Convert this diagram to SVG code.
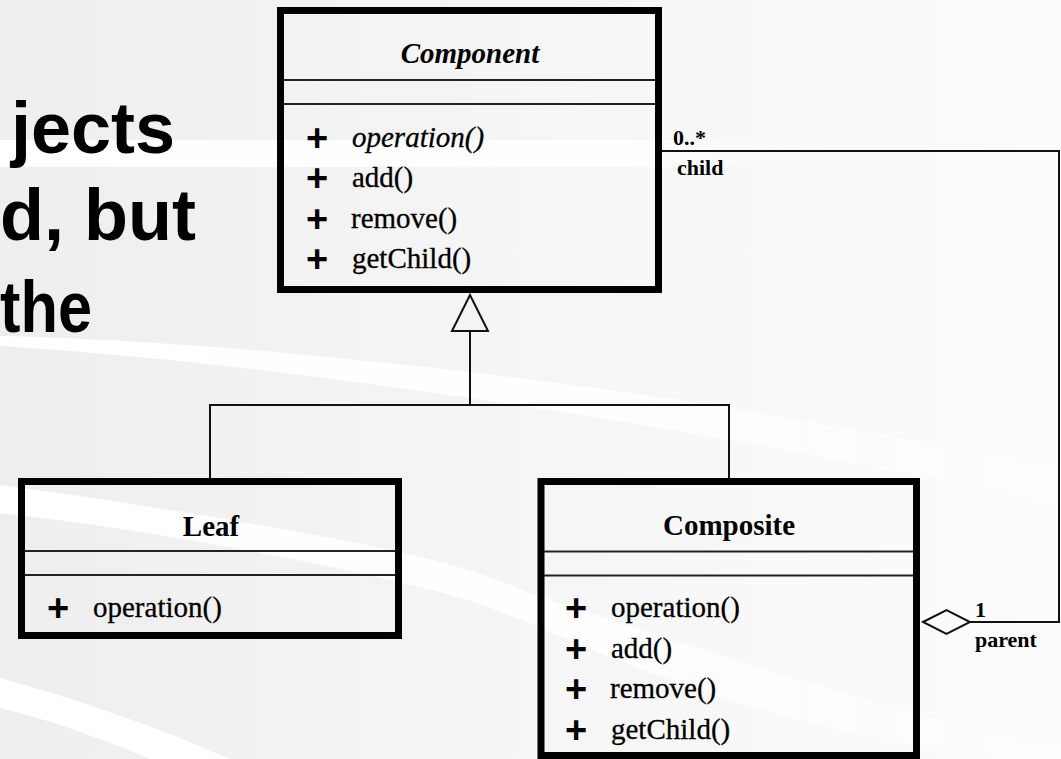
<svg xmlns="http://www.w3.org/2000/svg" width="1061" height="759" viewBox="0 0 1061 759">
  <defs>
    <linearGradient id="slideBg" x1="0" y1="0" x2="1" y2="0">
      <stop offset="0" stop-color="#eeeeee"/>
      <stop offset="0.6" stop-color="#f7f7f7"/>
      <stop offset="1" stop-color="#fcfcfc"/>
    </linearGradient>
    <linearGradient id="swooshFade" x1="0" y1="0" x2="1" y2="0">
      <stop offset="0" stop-color="#ffffff" stop-opacity="1"/>
      <stop offset="0.55" stop-color="#ffffff" stop-opacity="0.9"/>
      <stop offset="1" stop-color="#ffffff" stop-opacity="0.2"/>
    </linearGradient>
    <linearGradient id="swooshFadeA" gradientUnits="userSpaceOnUse" x1="0" y1="0" x2="780" y2="0">
      <stop offset="0" stop-color="#ffffff" stop-opacity="1"/>
      <stop offset="0.8" stop-color="#ffffff" stop-opacity="0.85"/>
      <stop offset="1" stop-color="#ffffff" stop-opacity="0"/>
    </linearGradient>
  </defs>
  <style>
    .frame { fill: none; stroke: #000; stroke-width: 7; }
    .divider { stroke: #222; stroke-width: 2; }
    .link { fill: none; stroke: #111; stroke-width: 2; }
    .title { font-family: "Liberation Serif", "Times New Roman", serif; font-size: 29px; font-weight: bold; text-anchor: middle; fill: #000; }
    .abstract { font-style: italic; }
    .member { font-family: "Liberation Serif", "Times New Roman", serif; font-size: 29px; fill: #000; stroke: #000; stroke-width: 0.3; }
    .vis { font-family: "Liberation Sans", Arial, sans-serif; font-size: 38px; font-weight: bold; text-anchor: middle; fill: #000; }
    .role { font-family: "Liberation Serif", "Times New Roman", serif; font-size: 22px; font-weight: bold; fill: #000; }
    .slide { font-family: "Liberation Sans", Arial, sans-serif; font-size: 72px; font-weight: bold; fill: #000; }
  </style>

  <!-- slide background with white swooshes -->
  <rect x="0" y="0" width="1061" height="759" fill="url(#slideBg)"/>
  <rect x="0" y="140" width="780" height="27" fill="url(#swooshFadeA)"/>
  <path d="M0,336 C200,340 500,370 760,413 C880,433 980,452 1061,468 L1061,505 C980,488 880,468 760,445 C500,400 250,362 0,346 Z" fill="url(#swooshFade)"/>
  <path d="M0,485 C150,505 330,535 420,557 C470,569 500,580 530,593 C700,650 850,700 1061,750 L1061,759 L1000,759 C850,740 700,700 530,623 C490,607 460,597 420,587 C300,558 150,530 0,513 Z" fill="url(#swooshFade)"/>
  <path d="M0,678 C80,700 160,728 230,759 L150,759 C100,738 50,720 0,708 Z" fill="#ffffff"/>

  <!-- slide text running behind the diagram -->
  <g id="slide-text">
    <text class="slide" x="175" y="153" text-anchor="end">jects</text>
    <text class="slide" x="0" y="240">d, but</text>
    <text class="slide" x="0" y="332" textLength="92" lengthAdjust="spacingAndGlyphs">the</text>
  </g>

  <!-- abstract base class -->
  <g id="component">
    <rect class="frame" x="280.5" y="10.5" width="378" height="279"/>
    <line class="divider" x1="284" y1="80" x2="655" y2="80"/>
    <line class="divider" x1="284" y1="104" x2="655" y2="104"/>
    <text class="title abstract" x="470" y="63">Component</text>
    <text class="vis" x="317" y="151">+</text>
    <text class="member abstract" x="352" y="147">operation()</text>
    <text class="vis" x="317" y="191">+</text>
    <text class="member" x="352" y="187">add()</text>
    <text class="vis" x="317" y="232">+</text>
    <text class="member" x="351" y="228">remove()</text>
    <text class="vis" x="317" y="272">+</text>
    <text class="member" x="352" y="268">getChild()</text>
  </g>

  <!-- leaf class -->
  <g id="leaf">
    <rect class="frame" x="21.5" y="481.5" width="377" height="154"/>
    <line class="divider" x1="25" y1="551" x2="395" y2="551"/>
    <line class="divider" x1="25" y1="575" x2="395" y2="575"/>
    <text class="title" x="211" y="536">Leaf</text>
    <text class="vis" x="58" y="621">+</text>
    <text class="member" x="93" y="617">operation()</text>
  </g>

  <!-- composite class -->
  <g id="composite">
    <rect class="frame" x="541" y="481.5" width="375.5" height="274"/>
    <line class="divider" x1="544" y1="551.5" x2="913" y2="551.5"/>
    <line class="divider" x1="544" y1="575.5" x2="913" y2="575.5"/>
    <text class="title" x="729" y="535">Composite</text>
    <text class="vis" x="576" y="621">+</text>
    <text class="member" x="611" y="617">operation()</text>
    <text class="vis" x="576" y="662">+</text>
    <text class="member" x="611" y="658">add()</text>
    <text class="vis" x="576" y="702">+</text>
    <text class="member" x="610" y="698">remove()</text>
    <text class="vis" x="576" y="743">+</text>
    <text class="member" x="611" y="739">getChild()</text>
  </g>

  <!-- generalization and aggregation connectors -->
  <g id="connectors">
    <polygon class="link" points="470,295 452,331 488,331" style="fill:#f4f4f4"/>
    <line class="link" x1="470" y1="331" x2="470" y2="405"/>
    <polyline class="link" points="210,478 210,405 729,405 729,478"/>
    <polyline class="link" points="662,151 1059,151 1059,622 970,622"/>
    <polygon class="link" points="923,622 946.5,610 970,622 946.5,634" style="fill:#fafafa"/>
    <text class="role" x="673" y="145">0..*</text>
    <text class="role" x="677" y="175">child</text>
    <text class="role" x="975" y="617">1</text>
    <text class="role" x="975" y="647">parent</text>
  </g>
</svg>
